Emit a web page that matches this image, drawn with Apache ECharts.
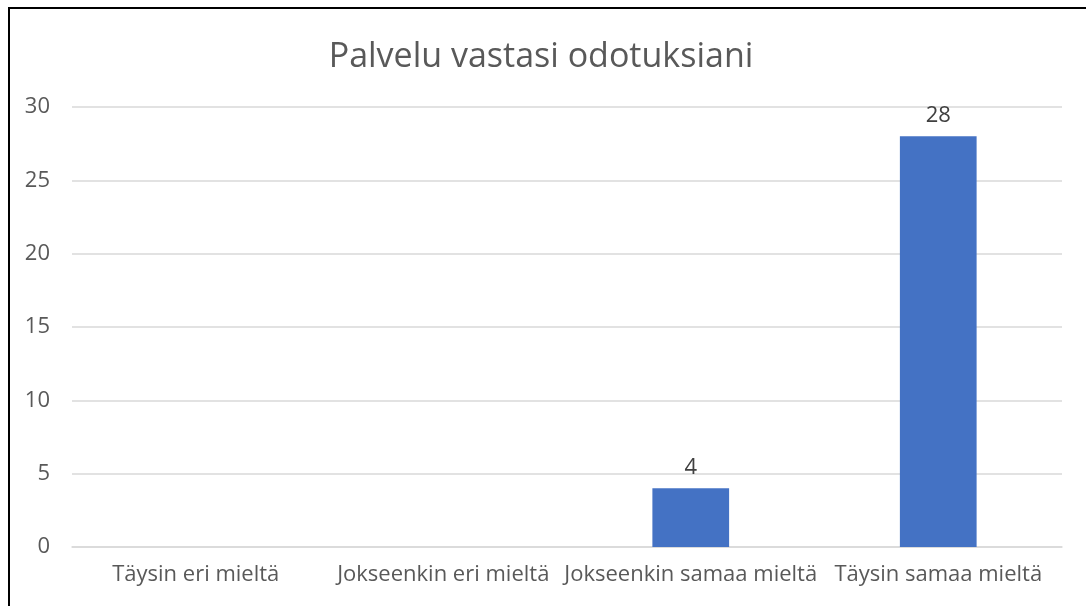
<!DOCTYPE html>
<html lang="fi">
<head>
    <meta charset="UTF-8">
    <script src="https://cdn.jsdelivr.net/npm/echarts@6/dist/echarts.min.js"></script>
    <title>Palvelu vastasi odotuksiani</title>
    <style>
        body { margin: 0; overflow: hidden; background: #fff; }
        #wrap { position: relative; width: 1086px; height: 606px; overflow: hidden; }
        #frame { position: absolute; left: 8px; top: 7px; width: 1200px; height: 700px; border: 2px solid #000; box-sizing: border-box; pointer-events: none; }
        #main { position: absolute; left: 0; top: 0; width: 1086px; height: 606px; }
    </style>
</head>
<body>
<div id="wrap">
    <div id="main"></div>
    <div id="frame"></div>
</div>
<script>
    var categories = ['Täysin eri mieltä', 'Jokseenkin eri mieltä', 'Jokseenkin samaa mieltä', 'Täysin samaa mieltä'];
    var values = [null, null, 4, 28];
    var yTicks = [0, 5, 10, 15, 20, 25, 30];

    var textColor = '#595959';
    var font = '"Open Sans", Lato, sans-serif';

    var echart = echarts.init(document.getElementById('main'));
    var option = {
        backgroundColor: '#fff',
        animation: false,
        title: {
            text: 'Palvelu vastasi odotuksiani',
            left: 536,
            top: 35,
            textAlign: 'center',
            textStyle: { color: textColor, fontFamily: font, fontSize: 34, fontWeight: 'normal' }
        },
        grid: { left: 72, right: 24, top: 107, bottom: 59, containLabel: false },
        xAxis: {
            type: 'category',
            data: categories,
            axisLine: { show: true, lineStyle: { color: '#d9d9d9', width: 1.5 } },
            axisTick: { show: false },
            axisLabel: { color: textColor, fontFamily: font, fontSize: 22, margin: 17, interval: 0 }
        },
        yAxis: {
            type: 'value',
            min: yTicks[0],
            max: yTicks[yTicks.length - 1],
            interval: 5,
            axisLine: { show: false },
            axisTick: { show: false },
            splitLine: { lineStyle: { color: '#d9d9d9', width: 1.5 } },
            axisLabel: { color: textColor, fontFamily: font, fontSize: 22, margin: 22 }
        },
        series: [{
            type: 'bar',
            data: values,
            barWidth: '31%',
            itemStyle: { color: '#4472C4' },
            label: {
                show: true,
                position: 'top',
                distance: 10,
                color: '#404040',
                fontFamily: font,
                fontSize: 22
            }
        }]
    };
    echart.setOption(option);
</script>
</body>
</html>
